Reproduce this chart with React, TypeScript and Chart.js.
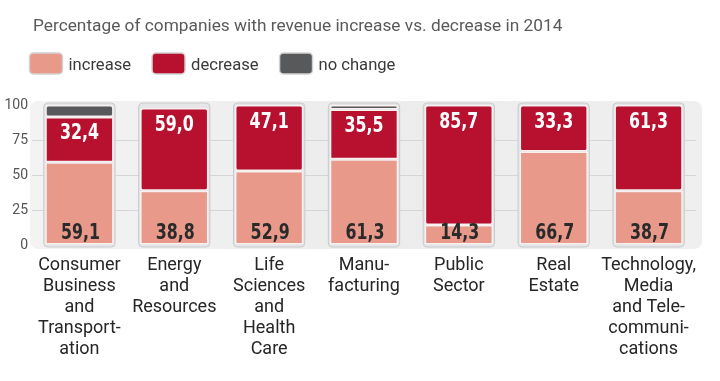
import React, { useEffect, useRef } from "react";
import { Chart, registerables } from "chart.js";

Chart.register(...registerables);

const TITLE = "Percentage of companies with revenue increase vs. decrease in 2014";

const categories: string[][] = [
  ["Consumer", "Business", "and", "Transport-", "ation"],
  ["Energy", "and", "Resources"],
  ["Life", "Sciences", "and", "Health", "Care"],
  ["Manu-", "facturing"],
  ["Public", "Sector"],
  ["Real", "Estate"],
  ["Technology,", "Media", "and Tele-", "communi-", "cations"],
];

const seriesNames = ["increase", "decrease", "no change"];
const increase = [59.1, 38.8, 52.9, 61.3, 14.3, 66.7, 38.7];
const decrease = [32.4, 59.0, 47.1, 35.5, 85.7, 33.3, 61.3];
const noChange: (number | null)[] = [8.5, null, null, 3.2, null, null, null];

const yMin = 0;
const yMax = 100;
const yStep = 25;

const COLORS = ["#E8998A", "#B8112F", "#58595B"];
const FONT = "Roboto, 'Open Sans', sans-serif";
const LABEL_FONT = "bold 22px 'DejaVu Sans Condensed', 'DejaVu Sans', sans-serif";
const LABEL_SCALE = 0.8;

const fmt = (v: number) => v.toFixed(1).replace(".", ",");

function drawNarrow(ctx: CanvasRenderingContext2D, text: string, x: number, y: number) {
  ctx.save();
  ctx.translate(x, y);
  ctx.scale(LABEL_SCALE, 1);
  ctx.fillText(text, 0, 0);
  ctx.restore();
}

const decorPlugin = {
  id: "decor",
  beforeDraw(chart: any) {
    const { ctx, chartArea: a, scales } = chart;
    const y = scales.y;
    ctx.save();
    // title
    ctx.font = `17.3px ${FONT}`;
    ctx.fillStyle = "#5a5a5a";
    ctx.textBaseline = "alphabetic";
    ctx.textAlign = "left";
    ctx.fillText(TITLE, 33, 31);
    // legend
    let lx = 29.5;
    const ly = 53;
    const bh = 21;
    ctx.font = `16.6px ${FONT}`;
    chart.data.datasets.forEach((ds: any) => {
      ctx.beginPath();
      ctx.roundRect(lx, ly, 33, bh, 4);
      ctx.fillStyle = ds.backgroundColor;
      ctx.fill();
      ctx.lineWidth = 1.5;
      ctx.strokeStyle = "#d2d2d2";
      ctx.stroke();
      ctx.fillStyle = "#3a3a3a";
      ctx.textBaseline = "alphabetic";
      ctx.fillText(ds.label, lx + 39, 69.5);
      lx += 39 + ctx.measureText(ds.label).width + 21;
    });
    // panel
    const top = y.getPixelForValue(yMax) - 4;
    const bottom = y.getPixelForValue(yMin) + 4;
    const g = ctx.createLinearGradient(a.left, 0, a.right, 0);
    g.addColorStop(0, "#f3f3f4");
    g.addColorStop(0.5, "#ececed");
    g.addColorStop(1, "#efeff0");
    ctx.fillStyle = g;
    ctx.beginPath();
    ctx.roundRect(a.left - 2, top, a.right - a.left + 8, bottom - top, 8);
    ctx.fill();
    ctx.restore();
  },
  beforeDatasetsDraw(chart: any) {
    const { ctx, scales } = chart;
    const y = scales.y;
    const meta = chart.getDatasetMeta(0);
    const top = y.getPixelForValue(yMax) - 2;
    const bottom = y.getPixelForValue(yMin) + 2;
    ctx.save();
    meta.data.forEach((bar: any) => {
      const { x, width } = bar.getProps(["x", "width"], true);
      ctx.beginPath();
      ctx.roundRect(x - width / 2 - 1.5, top, width + 3, bottom - top, 4);
      ctx.fillStyle = "#e6e6e8";
      ctx.fill();
      ctx.lineWidth = 1;
      ctx.strokeStyle = "#c9cacc";
      ctx.stroke();
    });
    ctx.restore();
  },
  afterDatasetsDraw(chart: any) {
    const { ctx } = chart;
    ctx.save();
    ctx.font = LABEL_FONT;
    ctx.textAlign = "center";
    ctx.textBaseline = "alphabetic";
    const m0 = chart.getDatasetMeta(0);
    m0.data.forEach((bar: any, i: number) => {
      const { x, base } = bar.getProps(["x", "base"], true);
      ctx.fillStyle = "#2a2a2a";
      drawNarrow(ctx, fmt(increase[i]), x + 1, base - 6);
    });
    const m1 = chart.getDatasetMeta(1);
    m1.data.forEach((bar: any, i: number) => {
      const { x, y } = bar.getProps(["x", "y"], true);
      ctx.fillStyle = "#ffffff";
      drawNarrow(ctx, fmt(decrease[i]), x, y + 22.5);
    });
    ctx.restore();
  },
};

export default function App() {
  const ref = useRef<HTMLCanvasElement | null>(null);
  useEffect(() => {
    if (!ref.current) return;
    const barCommon = {
      borderWidth: 1.5,
      borderColor: "rgba(250,240,240,0.95)",
      borderRadius: 3,
      borderSkipped: false,
      barPercentage: 0.72,
      categoryPercentage: 1,
    };
    const chart = new Chart(ref.current, {
      type: "bar",
      data: {
        labels: categories,
        datasets: [
          { label: seriesNames[0], data: increase, backgroundColor: COLORS[0], ...barCommon },
          { label: seriesNames[1], data: decrease, backgroundColor: COLORS[1], ...barCommon },
          { label: seriesNames[2], data: noChange, backgroundColor: COLORS[2], ...barCommon },
        ],
      } as any,
      options: {
        animation: false,
        responsive: true,
        maintainAspectRatio: false,
        layout: { padding: { left: 0, right: 24, top: 105, bottom: 0 } },
        plugins: {
          legend: { display: false },
          title: { display: false },
          tooltip: { enabled: false },
        },
        scales: {
          x: {
            stacked: true,
            grid: { display: false },
            border: { display: false },
            ticks: {
              autoSkip: false,
              maxRotation: 0,
              padding: 2,
              color: "#262626",
              font: { family: FONT, size: 18, lineHeight: "21px" } as any,
            },
            afterFit: (s: any) => {
              s.height = 136;
            },
          },
          y: {
            stacked: true,
            min: yMin,
            max: yMax,
            grid: {
              drawTicks: false,
              color: (c: any) =>
                c.tick && (c.tick.value === yMin || c.tick.value === yMax) ? "rgba(0,0,0,0)" : "#d4d5d7",
            },
            border: { display: false },
            ticks: {
              stepSize: yStep,
              padding: 4,
              color: "#555555",
              font: { family: FONT, size: 14 },
            },
            afterFit: (s: any) => {
              s.width = 32;
            },
          },
        },
      } as any,
      plugins: [decorPlugin],
    });
    return () => chart.destroy();
  }, []);
  return (
    <div style={{ position: "absolute", left: 0, top: 0, width: 720, height: 381 }}>
      <canvas ref={ref} />
    </div>
  );
}
